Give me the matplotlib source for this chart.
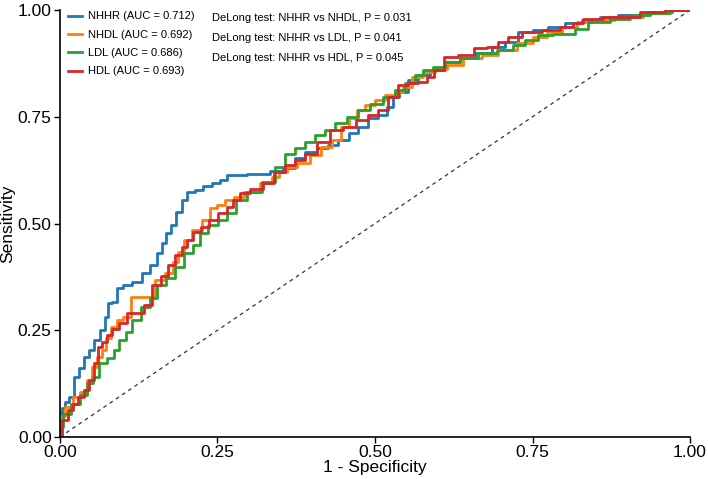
import matplotlib
matplotlib.use("Agg")
import matplotlib.pyplot as plt

plt.rcParams['font.family'] = ['Liberation Sans', 'DejaVu Sans']

# ROC points (1 - specificity, sensitivity)
nhhr_fpr = [0.0, 0.0, 0.005, 0.010, 0.0185, 0.026, 0.034, 0.042, 0.050, 0.058, 0.069, 0.074,
            0.079, 0.087, 0.095, 0.106, 0.122, 0.138, 0.148, 0.159, 0.164, 0.172, 0.180, 0.188,
            0.198, 0.206, 0.222, 0.233, 0.249, 0.259, 0.272, 0.323, 0.344, 0.365, 0.381, 0.397,
            0.418, 0.434, 0.450, 0.466, 0.481, 0.497, 0.513, 0.524, 0.532, 0.545, 0.561, 0.577,
            0.598, 0.624, 0.646, 0.672, 0.698, 0.714, 0.741, 0.762, 0.788, 0.815, 0.841, 0.873,
            0.899, 0.958, 0.984, 1.0]
nhhr_tpr = [0.0, 0.056, 0.067, 0.082, 0.094, 0.141, 0.161, 0.188, 0.204, 0.227, 0.251, 0.282,
            0.313, 0.317, 0.348, 0.356, 0.364, 0.383, 0.403, 0.430, 0.454, 0.477, 0.496, 0.528,
            0.555, 0.574, 0.578, 0.588, 0.594, 0.602, 0.614, 0.616, 0.622, 0.629, 0.653, 0.668,
            0.676, 0.684, 0.696, 0.711, 0.727, 0.746, 0.754, 0.774, 0.797, 0.809, 0.836, 0.848,
            0.859, 0.879, 0.887, 0.899, 0.914, 0.926, 0.949, 0.953, 0.961, 0.969, 0.976, 0.984,
            0.988, 0.996, 1.0, 1.0]

nhdl_fpr = [0.0, 0.0, 0.016, 0.026, 0.037, 0.048, 0.053, 0.063, 0.069, 0.077, 0.085, 0.095,
            0.106, 0.119, 0.143, 0.159, 0.175, 0.183, 0.193, 0.201, 0.217, 0.233, 0.243, 0.254,
            0.270, 0.283, 0.302, 0.333, 0.341, 0.355, 0.366, 0.386, 0.407, 0.423, 0.439, 0.452,
            0.466, 0.476, 0.492, 0.508, 0.524, 0.540, 0.550, 0.566, 0.587, 0.603, 0.624, 0.656,
            0.683, 0.709, 0.741, 0.762, 0.783, 0.810, 0.831, 0.862, 0.899, 0.952, 0.979, 1.0]
nhdl_tpr = [0.0, 0.048, 0.071, 0.094, 0.106, 0.133, 0.165, 0.188, 0.204, 0.231, 0.258, 0.274,
            0.282, 0.329, 0.329, 0.368, 0.383, 0.411, 0.434, 0.461, 0.485, 0.508, 0.536, 0.543,
            0.555, 0.563, 0.574, 0.594, 0.610, 0.621, 0.633, 0.641, 0.660, 0.680, 0.696, 0.727,
            0.746, 0.766, 0.778, 0.789, 0.801, 0.809, 0.820, 0.844, 0.855, 0.863, 0.871, 0.887,
            0.895, 0.906, 0.922, 0.937, 0.949, 0.961, 0.973, 0.976, 0.984, 0.992, 1.0, 1.0]

ldl_fpr = [0.0, 0.0, 0.010, 0.026, 0.037, 0.048, 0.058, 0.066, 0.082, 0.090, 0.098, 0.111,
           0.119, 0.138, 0.148, 0.161, 0.175, 0.190, 0.204, 0.217, 0.228, 0.243, 0.259, 0.272,
           0.288, 0.307, 0.333, 0.349, 0.365, 0.381, 0.397, 0.413, 0.429, 0.444, 0.466, 0.481,
           0.503, 0.524, 0.540, 0.556, 0.571, 0.582, 0.603, 0.619, 0.651, 0.677, 0.709, 0.730,
           0.746, 0.772, 0.794, 0.810, 0.825, 0.852, 0.894, 0.915, 0.958, 0.979, 1.0]
ldl_tpr = [0.0, 0.024, 0.055, 0.078, 0.098, 0.126, 0.141, 0.173, 0.184, 0.204, 0.227, 0.247,
           0.274, 0.305, 0.325, 0.356, 0.372, 0.399, 0.430, 0.450, 0.477, 0.496, 0.508, 0.524,
           0.555, 0.574, 0.598, 0.633, 0.664, 0.676, 0.692, 0.707, 0.719, 0.735, 0.750, 0.766,
           0.781, 0.797, 0.813, 0.828, 0.848, 0.859, 0.867, 0.879, 0.887, 0.899, 0.906, 0.918,
           0.930, 0.941, 0.945, 0.945, 0.956, 0.973, 0.980, 0.988, 0.992, 1.0, 1.0]

hdl_fpr = [0.0, 0.008, 0.016, 0.024, 0.034, 0.042, 0.050, 0.058, 0.063, 0.071, 0.077, 0.087,
           0.100, 0.114, 0.130, 0.138, 0.154, 0.167, 0.177, 0.188, 0.198, 0.206, 0.217, 0.230,
           0.243, 0.259, 0.270, 0.280, 0.291, 0.312, 0.333, 0.347, 0.366, 0.381, 0.397, 0.418,
           0.439, 0.460, 0.481, 0.497, 0.513, 0.529, 0.545, 0.561, 0.577, 0.587, 0.600, 0.619,
           0.646, 0.667, 0.688, 0.701, 0.720, 0.746, 0.783, 0.804, 0.825, 0.836, 0.889, 0.952,
           0.968, 1.0]
hdl_tpr = [0.0, 0.039, 0.063, 0.078, 0.094, 0.109, 0.133, 0.173, 0.211, 0.223, 0.239, 0.254,
           0.266, 0.290, 0.290, 0.309, 0.356, 0.376, 0.403, 0.426, 0.446, 0.461, 0.481, 0.492,
           0.508, 0.524, 0.539, 0.555, 0.571, 0.582, 0.594, 0.621, 0.637, 0.649, 0.664, 0.692,
           0.719, 0.727, 0.743, 0.754, 0.766, 0.797, 0.824, 0.828, 0.832, 0.844, 0.859, 0.891,
           0.895, 0.910, 0.914, 0.926, 0.937, 0.949, 0.953, 0.961, 0.969, 0.980, 0.984, 0.996,
           1.0, 1.0]

series = [
    ("NHHR (AUC = 0.712)", nhhr_fpr, nhhr_tpr, "#1f77b4"),
    ("NHDL (AUC = 0.692)", nhdl_fpr, nhdl_tpr, "#ff7f0e"),
    ("LDL (AUC = 0.686)", ldl_fpr, ldl_tpr, "#2ca02c"),
    ("HDL (AUC = 0.693)", hdl_fpr, hdl_tpr, "#d62728"),
]

delong_notes = [
    "DeLong test: NHHR vs NHDL, P = 0.031",
    "DeLong test: NHHR vs LDL, P = 0.041",
    "DeLong test: NHHR vs HDL, P = 0.045",
]

fig = plt.figure(figsize=(7.08, 4.79), dpi=100)
ax = fig.add_axes([0.0847, 0.0877, 0.8899, 0.8913])

ax.plot([0, 1], [0, 1], linestyle=(0, (3, 3)), color="#333333", linewidth=0.9)
for label, fpr, tpr, color in series:
    ax.plot(fpr, tpr, color=color, linewidth=2.0, label=label, drawstyle="steps-mid")

ax.set_xlim(0, 1)
ax.set_ylim(0, 1)
ticks = [0, 0.25, 0.5, 0.75, 1.0]
ax.set_xticks(ticks)
ax.set_yticks(ticks)
ax.set_xticklabels(["0.00", "0.25", "0.50", "0.75", "1.00"])
ax.set_yticklabels(["0.00", "0.25", "0.50", "0.75", "1.00"])
ax.tick_params(labelsize=12.5, length=4, width=1, pad=2)
ax.spines["top"].set_visible(False)
ax.spines["right"].set_visible(False)
ax.spines["left"].set_linewidth(1.2)
ax.spines["bottom"].set_linewidth(1.2)
ax.set_xlabel("1 - Specificity", fontsize=12.5, labelpad=0)
ax.set_ylabel("Sensitivity", fontsize=12.5, labelpad=2)

ax.legend(loc="upper left", bbox_to_anchor=(0.0, 1.015), frameon=False, fontsize=8,
          handlelength=1.3, handletextpad=0.5, labelspacing=0.75, borderaxespad=0.3)

for i, note in enumerate(delong_notes):
    ax.text(0.242, 0.981 - i * 0.047, note, transform=ax.transAxes, fontsize=8,
            ha="left", va="center")

fig.savefig("out.png", dpi=100)
